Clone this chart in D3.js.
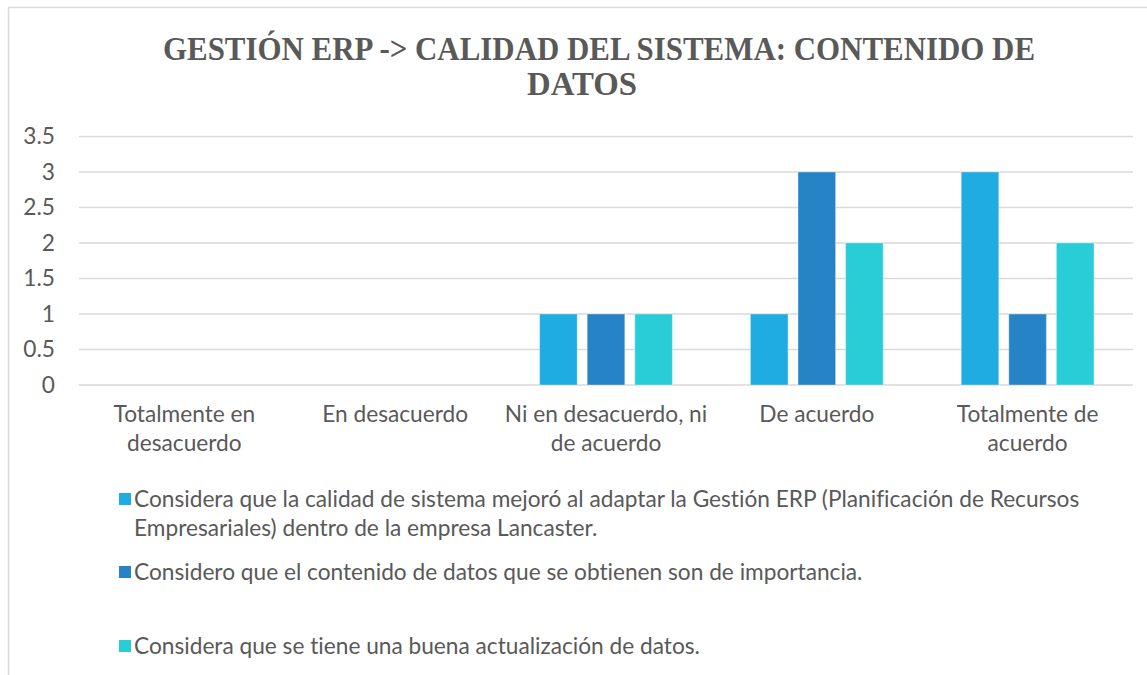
<!DOCTYPE html>
<html>
<head>
<meta charset="utf-8">
<script src="https://cdn.jsdelivr.net/npm/d3@7"></script>
<style>
  body { margin: 0; background: #fff; }
  svg { display: block; }
  text { font-variant-ligatures: none; font-feature-settings: "liga" 0; }
</style>
</head>
<body>
<div id="chart"></div>
<script>
// data
const categories = ["Totalmente en desacuerdo", "En desacuerdo", "Ni en desacuerdo, ni de acuerdo", "De acuerdo", "Totalmente de acuerdo"]
const categoryLines = [["Totalmente en", "desacuerdo"], ["En desacuerdo"], ["Ni en desacuerdo, ni", "de acuerdo"], ["De acuerdo"], ["Totalmente de", "acuerdo"]]
const seriesNames = ["s1", "s2", "s3"]
const calidadMejoro = [0, 0, 1, 1, 3]
const contenidoImportancia = [0, 0, 1, 3, 1]
const buenaActualizacion = [0, 0, 1, 2, 2]
const yTicks = [0, 0.5, 1, 1.5, 2, 2.5, 3, 3.5]
const legendLines = [
    ["Considera que la calidad de sistema mejoró al adaptar la Gestión ERP (Planificación de Recursos", "Empresariales) dentro de la empresa Lancaster."],
    ["Considero que el contenido de datos que se obtienen son de importancia."],
    ["Considera que se tiene una buena actualización de datos."]
]
const colors = ["#1FACE3", "#2683C6", "#29CDD7"]
const titleLines = ["GESTIÓN ERP -> CALIDAD DEL SISTEMA: CONTENIDO DE", "DATOS"]

const width = 1147, height = 675
const seriesValues = [calidadMejoro, contenidoImportancia, buenaActualizacion]
const fontFam = "Lato, 'Open Sans', sans-serif"
const textCol = "#595959"

const svg = d3.select("#chart").append("svg")
    .attr("width", width).attr("height", height)

// chart frame (only top/left show in the picture)
svg.append("rect")
    .attr("x", 8.5).attr("y", 7.5)
    .attr("width", 1400).attr("height", 900)
    .style("fill", "none").style("stroke", "#D9D9D9").style("stroke-width", 1.5)

// work out a font size so the long legend line is as wide as in the picture
const probe = svg.append("text").style("font-family", fontFam).style("font-size", "20px").text(legendLines[0][0])
const fs = 20 * 946 / probe.node().getComputedTextLength()
probe.remove()

// title
titleLines.forEach((t, i) => {
    const el = svg.append("text")
        .attr("x", i == 0 ? 599 : 582).attr("y", i == 0 ? 60 : 95)
        .attr("text-anchor", "middle")
        .style("font-family", "'Liberation Serif', 'Times New Roman', serif")
        .style("font-weight", "bold").style("font-size", "33px")
        .style("fill", textCol)
        .text(t)
    const target = i == 0 ? 872 : 110
    if (el.node().getComputedTextLength() > target) {
        el.attr("textLength", target).attr("lengthAdjust", "spacingAndGlyphs")
    }
})

const x0 = d3.scaleBand().domain(categories).range([79, 1133])
const x1 = d3.scaleBand().domain(seriesNames).range([0, x0.bandwidth()])
    .paddingInner(0.21).paddingOuter(0.82)
const y = d3.scaleLinear().domain([0, 3.5]).range([385, 136.5])

// gridlines
svg.append("g").selectAll("line")
    .data(yTicks).enter().append("line")
    .attr("x1", 79).attr("x2", 1133)
    .attr("y1", d => y(d)).attr("y2", d => y(d))
    .style("stroke", "#D9D9D9").style("stroke-width", 1.5)

// y tick labels
svg.append("g").selectAll("text")
    .data(yTicks).enter().append("text")
    .attr("x", 55).attr("y", d => y(d))
    .attr("dy", "0.35em")
    .attr("text-anchor", "end")
    .style("font-family", fontFam).style("font-size", fs + "px")
    .style("fill", textCol)
    .text(d => d)

// bars
const groups = svg.append("g").selectAll("g")
    .data(categories).enter().append("g")
    .attr("transform", d => "translate(" + x0(d) + ",0)")

groups.selectAll("rect")
    .data((c, ci) => seriesNames.map((s, si) => ({ s: s, si: si, v: seriesValues[si][ci] })))
    .enter().append("rect")
    .filter(d => d.v > 0)
    .attr("x", d => x1(d.s))
    .attr("width", x1.bandwidth())
    .attr("y", d => y(d.v))
    .attr("height", d => y(0) - y(d.v))
    .style("fill", d => colors[d.si])
    .style("stroke", "#ffffff").style("stroke-opacity", 0.35).style("stroke-width", 1)

// category labels
const catLabels = svg.append("g").selectAll("text")
    .data(categories).enter().append("text")
    .attr("x", d => x0(d) + x0.bandwidth() / 2)
    .attr("y", 422)
    .attr("text-anchor", "middle")
    .style("font-family", fontFam).style("font-size", fs + "px")
    .style("fill", textCol)
catLabels.each(function(d, i) {
    const t = d3.select(this)
    categoryLines[i].forEach((ln, j) => {
        t.append("tspan")
            .attr("x", x0(d) + x0.bandwidth() / 2)
            .attr("dy", j == 0 ? 0 : 29)
            .text(ln)
    })
})

// legend
const legendY = [499, 572, 646]
const lg = svg.append("g")
legendLines.forEach((lines, i) => {
    lg.append("rect")
        .attr("x", 119).attr("y", legendY[i] - 6)
        .attr("width", 12).attr("height", 12)
        .style("fill", colors[i])
    const t = lg.append("text")
        .attr("y", legendY[i]).attr("dy", "0.35em")
        .style("font-family", fontFam).style("font-size", fs + "px")
        .style("fill", textCol)
    lines.forEach((ln, j) => {
        t.append("tspan").attr("x", 134).attr("dy", j == 0 ? "0.35em" : 29).text(ln)
    })
})
</script>
</body>
</html>
